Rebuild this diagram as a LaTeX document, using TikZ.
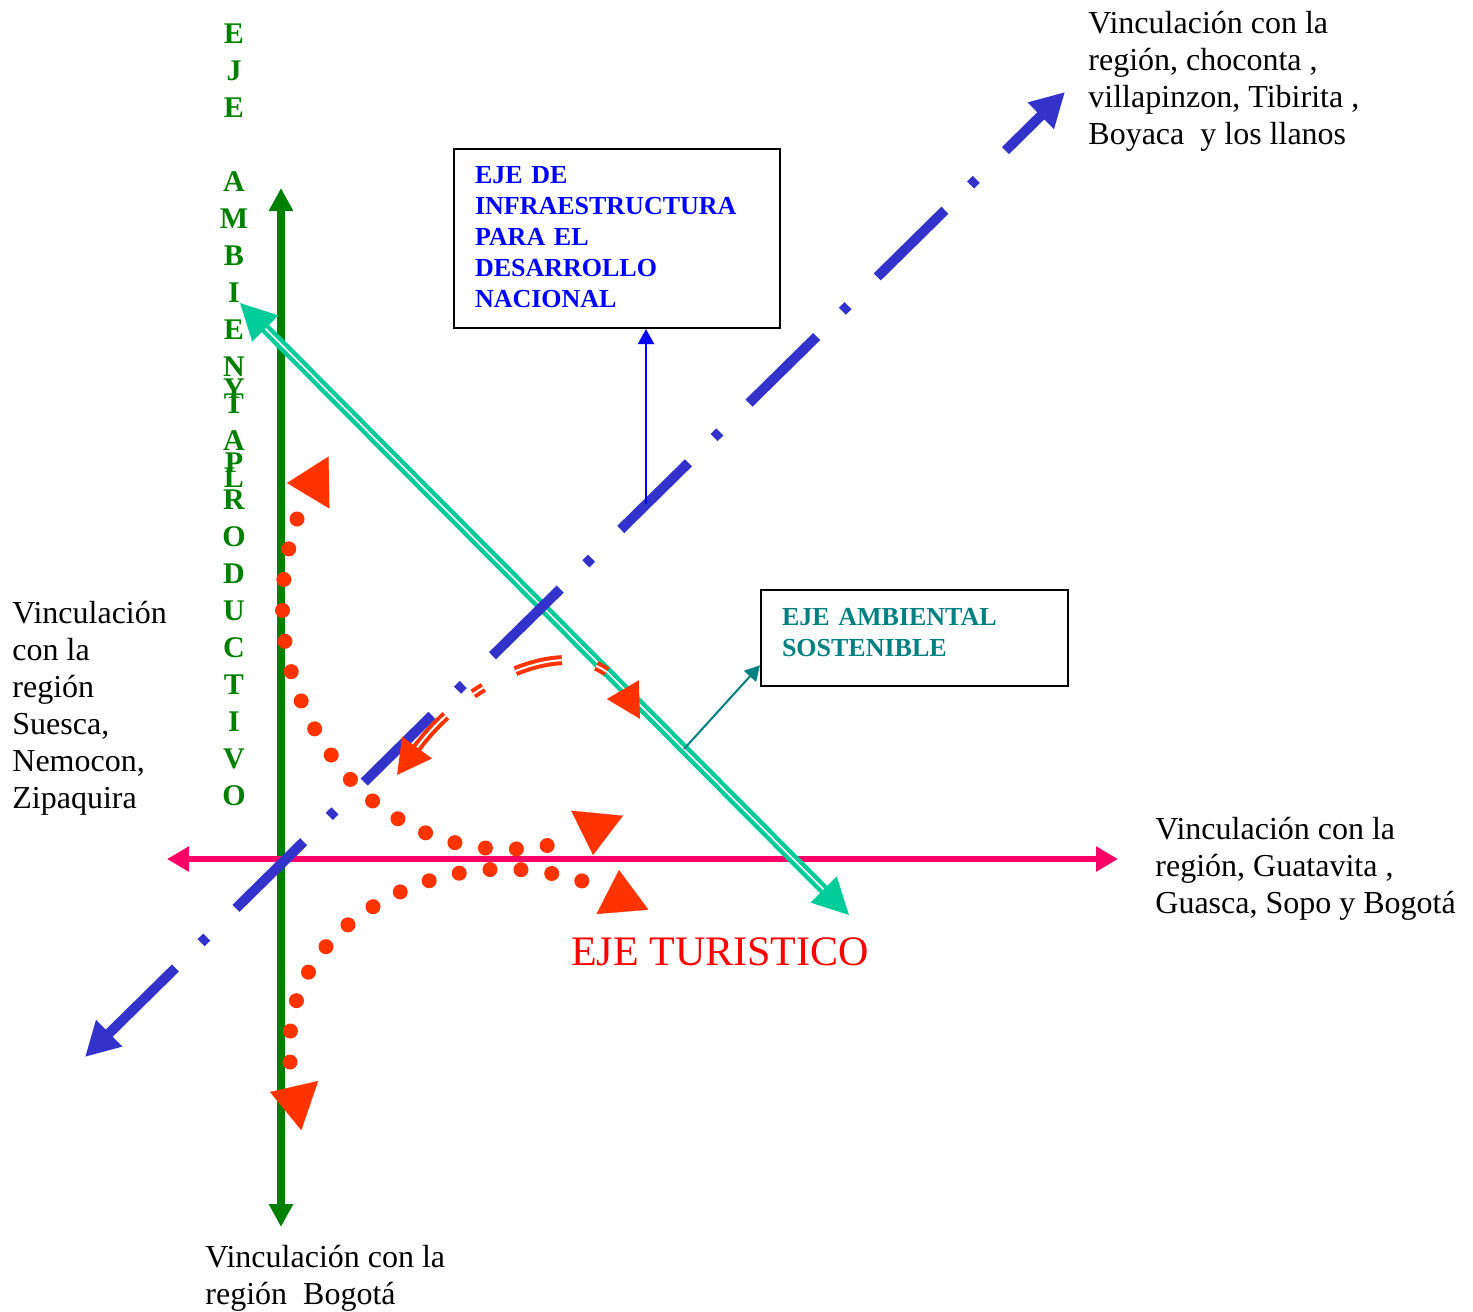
\documentclass[tikz,border=0pt]{standalone}
\usepackage{fontspec}
\setmainfont{Liberation Serif}
\usetikzlibrary{arrows.meta,positioning}
\definecolor{axisgreen}{RGB}{0,128,0}
\definecolor{axispink}{RGB}{255,0,102}
\definecolor{axisblue}{RGB}{51,51,204}
\definecolor{axisteal}{RGB}{0,204,153}
\definecolor{turred}{RGB}{255,51,0}
\definecolor{boxteal}{RGB}{0,128,128}

\begin{document}
\begin{tikzpicture}[x=0.5pt,y=-0.5pt]
  \tikzset{GreenAxisStyle/.style = {
    draw          = axisgreen,
    line width    = 3.8pt,
    arrows        = {Triangle[length=11.5pt,width=11.5pt]-Triangle[length=11.5pt,width=11.5pt]}
    }
  }
  \tikzset{PinkAxisStyle/.style = {
    draw          = axispink,
    line width    = 3.3pt,
    arrows        = {Triangle[length=11pt,width=12pt]-Triangle[length=11pt,width=12pt]}
    }
  }
  \tikzset{BlueAxisStyle/.style = {
    draw          = axisblue,
    line width    = 5pt,
    dash pattern  = on 47.5pt off 18pt on 4pt off 20.5pt,
    dash phase    = 0pt,
    arrows        = {Triangle[length=17pt,width=17.5pt]-Triangle[length=17pt,width=17.5pt]}
    }
  }
  \tikzset{TealAxisStyle/.style = {
    draw            = axisteal,
    line width      = 2.2pt,
    double          = white,
    double distance = 0.8pt,
    arrows          = {Triangle[length=18pt,width=18pt]-Triangle[length=18pt,width=18pt]}
    }
  }
  \tikzset{DotTrailStyle/.style = {
    draw          = turred,
    line width    = 7.5pt,
    line cap      = round,
    dash pattern  = on 0pt off 15.5pt
    }
  }
  \tikzset{TurHeadStyle/.style = {
    draw          = turred,
    fill          = turred,
    line width    = 0.1pt,
    arrows        = {-Triangle[length=21pt,width=26pt]}
    }
  }
  \tikzset{TurArcStyle/.style = {
    draw            = turred,
    line width      = 2pt,
    double          = white,
    double distance = 1pt,
    dash pattern    = on 24pt off 17.5pt on 6pt off 18pt,
    dash phase      = 2pt,
    arrows          = {Triangle[length=17pt,width=18pt]-Triangle[length=17pt,width=18pt]}
    }
  }
  \tikzset{InfoArrowStyle/.style = {
    line width    = 1pt,
    arrows        = {-Triangle[length=7.5pt,width=8pt]}
    }
  }
  \tikzset{InfoBoxStyle/.style = {
    shape         = rectangle,
    draw          = black,
    fill          = white,
    line width    = 1pt,
    align         = left,
    inner xsep    = 10.5pt,
    inner ysep    = 8pt,
    font          = \bfseries\fontsize{13}{15.5}\selectfont
    }
  }
  \tikzset{PlaceTextStyle/.style = {
    anchor        = north west,
    align         = left,
    inner sep     = 0pt,
    font          = \fontsize{16}{18.5}\selectfont
    }
  }
  \tikzset{VertTextStyle/.style = {
    anchor        = north,
    align         = center,
    inner sep     = 0pt,
    text          = axisgreen,
    font          = \bfseries\fontsize{15}{18.5}\selectfont
    }
  }

  \useasboundingbox (0,0) rectangle (1473,1312);

	% axis ends
	\coordinate (G1) at (281,1227);
	\coordinate (G2) at (281,188);
	\coordinate (P1) at (167,859);
	\coordinate (P2) at (1118,859);
	\coordinate (B1) at (85,1057);
	\coordinate (B2) at (1065,92);
	\coordinate (T1) at (240,303);
	\coordinate (T2) at (849,915);
	%
	\draw[GreenAxisStyle](G1) -- (G2);
	\draw[PinkAxisStyle](P1) -- (P2);
	\draw[TealAxisStyle](T2) -- (T1);
	\draw[BlueAxisStyle](B1) -- (B2);

	% dotted red trails
	\coordinate (dA1) at (297,519);
	\coordinate (dA2) at (559,843);
	\coordinate (dB1) at (290,1062);
	\coordinate (dB2) at (597,886);
	\draw[DotTrailStyle](dA1) .. controls (270,600) and (275,700) .. (360,790) .. controls (430,855) and (510,855) .. (dA2);
	\draw[DotTrailStyle](dB1) .. controls (285,990) and (320,930) .. (400,892) .. controls (470,860) and (540,865) .. (dB2);
	%
	\coordinate (hA1) at (329,482.5);
	\coordinate (tA1) at (287,483);
	\coordinate (hA2) at (597,814);
	\coordinate (tA2) at (593,855);
	\coordinate (hB1) at (311,1106);
	\coordinate (tB1) at (270,1092);
	\coordinate (hB2) at (622.5,912.5);
	\coordinate (tB2) at (619,870);
	\draw[TurHeadStyle](hA1) -- (tA1);
	\draw[TurHeadStyle](hA2) -- (tA2);
	\draw[TurHeadStyle](hB1) -- (tB1);
	\draw[TurHeadStyle](hB2) -- (tB2);

	% curved red arrow
	\coordinate (R1) at (397,775);
	\coordinate (R2) at (640,719);
	\draw[TurArcStyle](R1) .. controls (470,675) and (585,625) .. (R2);

	% boxes
	\node[InfoBoxStyle, text=blue, text width=142pt, text depth=64pt, minimum height=89.5pt](infra) at (617,238.5) {EJE DE\\INFRAESTRUCTURA\\PARA EL\\DESARROLLO\\NACIONAL};
	\node[InfoBoxStyle, text=boxteal, text width=132.5pt, text depth=21.5pt, minimum height=48pt](amb) at (914.5,638) {EJE AMBIENTAL\\SOSTENIBLE};
	%
	\coordinate (infrafoot) at (646,504);
	\coordinate (ambfoot) at (684,749);
	\draw[InfoArrowStyle, blue](infrafoot) -- (infrafoot |- infra.south);
	\draw[InfoArrowStyle, boxteal](ambfoot) -- (amb.190);

	% texts
	\node[VertTextStyle](ejeA) at (234,23) {E\\J\\E\\\mbox{}\\A\\M\\B\\I\\E\\N\\T\\A\\L};
	\node[VertTextStyle](ejeP) at (234,378) {Y\\\mbox{}\\P\\R\\O\\D\\U\\C\\T\\I\\V\\O};
	%
	\node[PlaceTextStyle](vTop) at (1088,11) {Vinculación con la\\región, choconta ,\\villapinzon, Tibirita ,\\Boyaca~ y los llanos};
	\node[PlaceTextStyle](vLeft) at (12,601) {Vinculación\\con la\\región\\Suesca,\\Nemocon,\\Zipaquira};
	\node[PlaceTextStyle](vRight) at (1155,817) {Vinculación con la\\región, Guatavita ,\\Guasca, Sopo y Bogotá};
	\node[PlaceTextStyle](vBottom) at (205,1245) {Vinculación con la\\región~ Bogotá};
	\node[text=red, inner sep=0pt, font=\fontsize{21}{25}\selectfont](turis) at (720,952) {EJE TURISTICO};

  \end{tikzpicture}
\end{document}
